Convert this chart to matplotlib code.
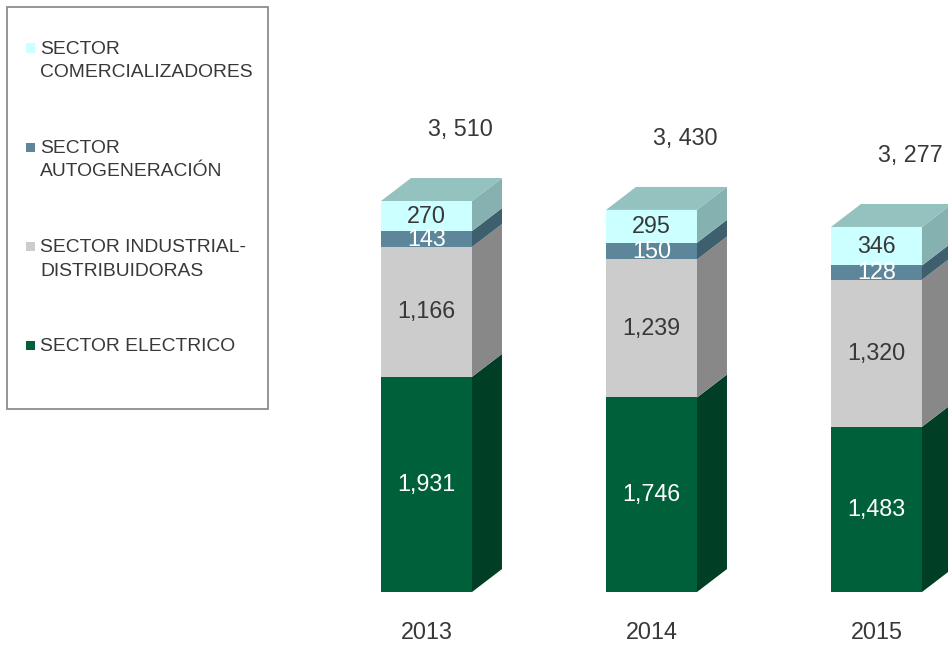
import matplotlib
matplotlib.use("Agg")
import matplotlib.pyplot as plt
from matplotlib.patches import Polygon, Rectangle

plt.rcParams['font.family'] = ['Liberation Sans', 'DejaVu Sans']

years = ["2013", "2014", "2015"]
series_names = ["SECTOR ELECTRICO", "SECTOR INDUSTRIAL-\nDISTRIBUIDORAS",
                "SECTOR\nAUTOGENERACIÓN", "SECTOR\nCOMERCIALIZADORES"]
electrico = [1931, 1746, 1483]
industrial = [1166, 1239, 1320]
autogeneracion = [143, 150, 128]
comercializadores = [270, 295, 346]
total_labels = ["3, 510", "3, 430", "3, 277"]

series = [electrico, industrial, autogeneracion, comercializadores]
front_colors = ["#00603a", "#cccccc", "#5e869a", "#ccffff"]
side_colors = ["#003f26", "#888888", "#3e5f6e", "#86b1b1"]
top_color = "#93c2bf"
label_colors = ["white", "#383838", "white", "#383838"]

fig = plt.figure(figsize=(9.48, 6.46), dpi=100)
ax = fig.add_axes([0, 0, 1, 1])
ax.set_xlim(-1.8956, 2.3178)
ax.set_ylim(-484.7, 5314.2)
ax.axis('off')

w = 0.4044
dx = 0.1333
dy = 206
text_col = "#383838"

for i, yr in enumerate(years):
    bottom = 0
    for s, vals in enumerate(series):
        v = vals[i]
        ax.bar(i, v, bottom=bottom, width=w, color=front_colors[s], linewidth=0, zorder=2)
        xr = i + w / 2
        side = Polygon([(xr, bottom), (xr + dx, bottom + dy), (xr + dx, bottom + v + dy), (xr, bottom + v)],
                       closed=True, facecolor=side_colors[s], edgecolor='none', zorder=2)
        ax.add_patch(side)
        ax.text(i, bottom + v / 2, f"{v:,}", ha='center', va='center', fontsize=16.8,
                color=label_colors[s], zorder=3)
        bottom += v
    xl = i - w / 2
    top = Polygon([(xl, bottom), (xl + dx, bottom + dy), (xr + dx, bottom + dy), (xr, bottom)],
                  closed=True, facecolor=top_color, edgecolor='none', zorder=2)
    ax.add_patch(top)
    ax.text(i + 0.15, bottom + 640, total_labels[i], ha='center', va='center', fontsize=16.8, color=text_col)
    ax.text(i, -360, yr, ha='center', va='center', fontsize=16.8, color=text_col)

# Legend box (figure pixel coordinates converted to fractions)
W, H = 948, 646
fig.patches.append(Rectangle((7 / W, 1 - 409 / H), 261 / W, 402 / H, transform=fig.transFigure,
                             facecolor='white', edgecolor='#8c8c8c', linewidth=1.3, zorder=5))
legend_order = [3, 2, 1, 0]
for k, s in enumerate(legend_order):
    yc = 48 + 99.3 * k
    fig.patches.append(Rectangle((26 / W, 1 - (yc + 4.5) / H), 9 / W, 9 / H, transform=fig.transFigure,
                                 facecolor=front_colors[s], edgecolor='none', zorder=6))
    fig.text(40 / W, 1 - (yc - 7.5) / H, series_names[s], ha='left', va='top', fontsize=13.9,
             color=text_col, linespacing=1.5, zorder=7)

fig.savefig("out.png", dpi=100)
